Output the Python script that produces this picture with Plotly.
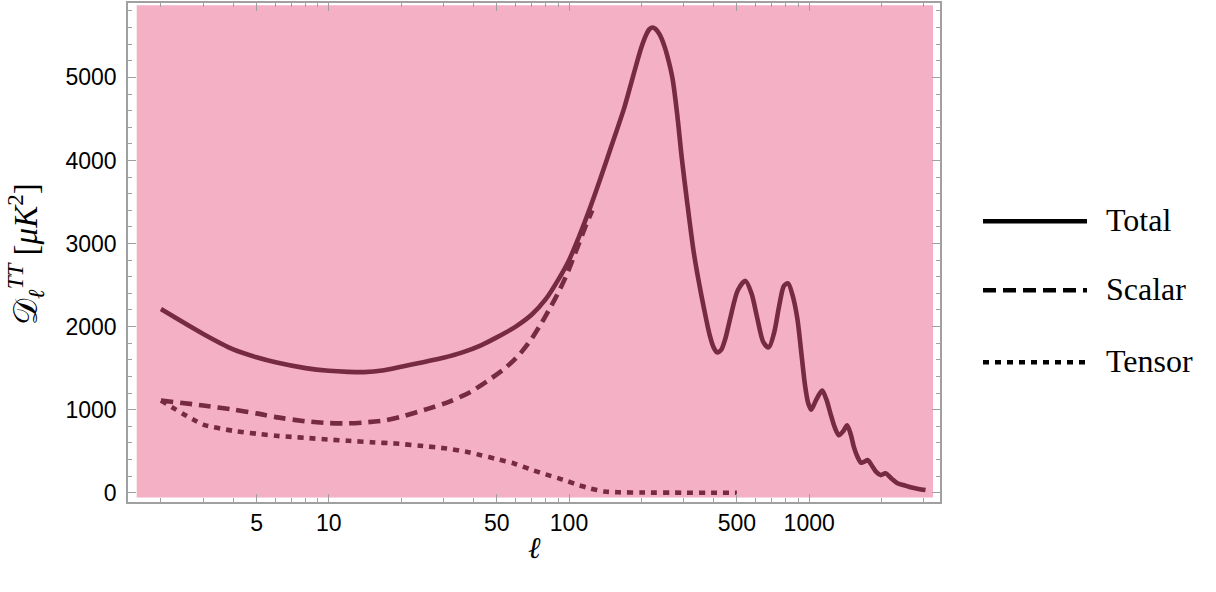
import plotly.graph_objects as go

# Multipole moments and band powers D_ell^TT [muK^2]
ell_total = [2, 3, 4, 5, 6, 8, 10, 12, 14, 17, 20, 25, 30, 36, 43, 50, 60, 70, 80, 90,
             100, 110, 122, 135, 150, 170, 185, 200, 210, 216, 222, 229, 238, 250, 260,
             270, 282, 295, 310, 330, 345, 364, 385, 400, 414, 430, 448, 470, 505, 543,
             575, 607, 645, 679, 715, 750, 785, 817, 850, 891, 930, 960, 990, 1019, 1070,
             1132, 1180, 1227, 1280, 1329, 1385, 1439, 1490, 1534, 1590, 1647, 1700, 1755,
             1820, 1900, 1982, 2080, 2200, 2330, 2480, 2643, 2850, 3050]
d_total = [2211, 1911, 1725, 1630, 1570, 1500, 1468, 1455, 1452, 1475, 1515, 1575, 1625,
           1690, 1775, 1870, 2000, 2145, 2330, 2560, 2800, 3080, 3420, 3780, 4170, 4640,
           5020, 5360, 5520, 5580, 5600, 5585, 5520, 5370, 5195, 4980, 4560, 4020, 3510,
           2910, 2580, 2230, 1900, 1750, 1690, 1720, 1860, 2110, 2440, 2550, 2400, 2110,
           1810, 1750, 1930, 2250, 2490, 2520, 2390, 2110, 1650, 1300, 1080, 1000, 1120,
           1230, 1120, 950, 780, 692, 740, 812, 700, 552, 430, 360, 375, 392, 330, 250,
           212, 233, 170, 113, 90, 65, 45, 32]

ell_scalar = [2, 3, 4, 5, 6, 8, 10, 12, 14, 17, 20, 26, 32, 39, 46, 54, 62, 69, 76, 84,
              91, 98, 105, 112, 118, 125]
d_scalar = [1110, 1050, 1000, 955, 910, 860, 838, 835, 845, 870, 915, 1012, 1100, 1215,
            1350, 1495, 1660, 1830, 2020, 2240, 2430, 2630, 2850, 3060, 3230, 3400]

ell_tensor = [2, 3, 4, 5, 6, 7, 8, 10, 12, 15, 19, 24, 31, 37, 43, 50, 59, 70, 80, 90,
              98, 110, 122, 140, 160, 200, 300, 400, 500]
d_tensor = [1110, 820, 745, 710, 685, 672, 660, 640, 625, 608, 592, 565, 532, 495, 452,
            405, 352, 275, 220, 175, 140, 90, 53, 15, 5, 2, 0, 0, 0]

legend_names = ["Total", "Scalar", "Tensor"]
x_major = [5, 10, 50, 100, 500, 1000]
x_minor = [2, 3, 4, 6, 7, 8, 9, 20, 30, 40, 60, 70, 80, 90,
           200, 300, 400, 600, 700, 800, 900, 2000, 3000]
y_major = [0, 1000, 2000, 3000, 4000, 5000]

LINE = "rgb(118,42,68)"
PINK = "rgb(244,176,196)"
FRAME = "rgb(160,160,160)"
W, H = 1216, 592
L, R, T, B = 128, 276, 1, 90
PW, PH = W - L - R, H - T - B


def px(x):
    return (x - L) / PW


def py(y):
    return (H - B - y) / PH


fig = go.Figure()
fig.add_trace(go.Scatter(x=ell_total, y=d_total, mode="lines", name=legend_names[0],
                         line=dict(color=LINE, width=4.6, shape="spline", smoothing=0.8)))
fig.add_trace(go.Scatter(x=ell_scalar, y=d_scalar, mode="lines", name=legend_names[1],
                         line=dict(color=LINE, width=4.6, shape="spline", smoothing=0.6,
                                   dash="12px,7px")))
fig.add_trace(go.Scatter(x=ell_tensor, y=d_tensor, mode="lines", name=legend_names[2],
                         line=dict(color=LINE, width=4.6, shape="spline", smoothing=0.6,
                                   dash="6px,6px")))

shapes = [dict(type="rect", xref="paper", yref="paper", layer="below",
               x0=px(136.7), x1=px(933), y0=py(497.5), y1=py(3.3),
               fillcolor=PINK, line=dict(width=0))]

# Key on the right: sample strokes and labels
key_y = [220, 289.5, 361.7]
key_dash = ["solid", "13px,7px", "6px,6px"]
annotations = []
for name, yk, dsh in zip(legend_names, key_y, key_dash):
    shapes.append(dict(type="line", xref="paper", yref="paper",
                       x0=px(983), x1=px(1087), y0=py(yk), y1=py(yk),
                       line=dict(color="black", width=4.5, dash=dsh)))
    annotations.append(dict(text=name, xref="paper", yref="paper", x=px(1104), y=py(yk - 1),
                            xanchor="left", yanchor="middle", showarrow=False,
                            font=dict(family="Liberation Serif", size=32, color="black")))

annotations.append(dict(text="<i>ℓ</i>", xref="paper", yref="paper", x=0.5, y=py(548),
                        xanchor="center", yanchor="middle", showarrow=False,
                        font=dict(family="Liberation Serif", size=30, color="black")))
annotations.append(dict(text="𝒟<sub><i>ℓ</i></sub><sup><i>TT</i></sup> [<i>μK</i><sup>2</sup>]",
                        xref="paper", yref="paper", x=px(26), y=py(253), textangle=-90,
                        xanchor="center", yanchor="middle", showarrow=False,
                        font=dict(family="Liberation Serif", size=33, color="black")))

tick_font = dict(family="Liberation Sans, Arial", size=23, color="black")
fig.update_layout(
    width=W, height=H, margin=dict(l=L, r=R, t=T, b=B),
    paper_bgcolor="white", plot_bgcolor="white", showlegend=False,
    shapes=shapes, annotations=annotations,
    xaxis=dict(type="log", range=[0.1638, 3.5446], tickvals=x_major,
               ticktext=[str(v) for v in x_major], ticks="inside", ticklen=8, tickwidth=1,
               tickcolor=FRAME, showline=True, linecolor=FRAME, linewidth=1.5,
               mirror="ticks", showgrid=False, zeroline=False, tickfont=tick_font,
               minor=dict(tickvals=x_minor, ticks="inside", ticklen=4, tickcolor=FRAME,
                          showgrid=False)),
    yaxis=dict(range=[-112, 5896], tickvals=y_major, ticks="inside", ticklen=8,
               tickwidth=1, tickcolor=FRAME, showline=True, linecolor=FRAME, linewidth=1.5,
               mirror="ticks", showgrid=False, zeroline=False, tickfont=tick_font,
               ticklabelstandoff=5,
               minor=dict(dtick=200, tick0=0, ticks="inside", ticklen=4, tickcolor=FRAME,
                          showgrid=False)),
)

fig.write_html("out.html")
